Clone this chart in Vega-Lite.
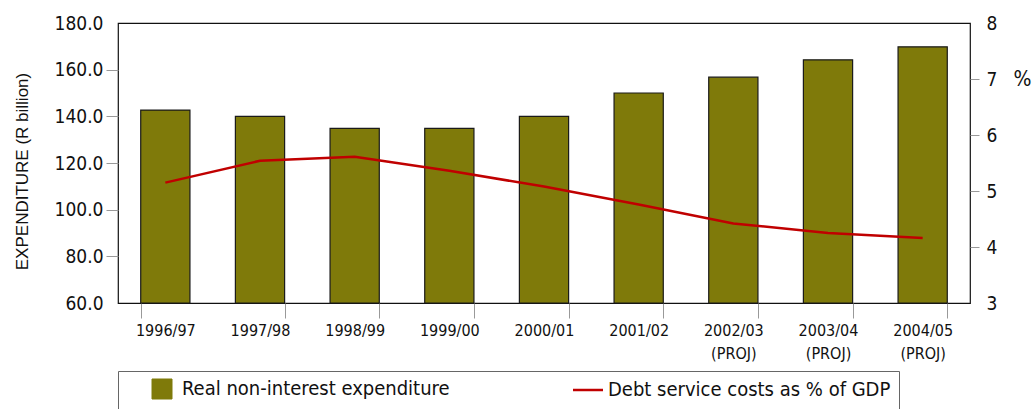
{
  "$schema": "https://vega.github.io/schema/vega-lite/v6.json",
  "width": 852,
  "height": 280,
  "autosize": {"type": "none"},
  "padding": {"left": 118, "top": 23, "right": 64, "bottom": 106},
  "background": "white",
  "data": {
    "values": [
      {"year": "1996/97", "exp": 142.7, "debt": 5.15},
      {"year": "1997/98", "exp": 140.0, "debt": 5.54},
      {"year": "1998/99", "exp": 134.8, "debt": 5.61},
      {"year": "1999/00", "exp": 134.8, "debt": 5.36},
      {"year": "2000/01", "exp": 140.0, "debt": 5.08},
      {"year": "2001/02", "exp": 150.0, "debt": 4.76},
      {"year": "2002/03 (PROJ)", "exp": 156.8, "debt": 4.42},
      {"year": "2003/04 (PROJ)", "exp": 164.2, "debt": 4.25},
      {"year": "2004/05 (PROJ)", "exp": 169.8, "debt": 4.16}
    ]
  },
  "encoding": {
    "x": {
      "field": "year",
      "type": "nominal",
      "sort": null,
      "scale": {"paddingInner": 0.48, "paddingOuter": 0.24},
      "axis": {
        "title": null,
        "labelAngle": 0,
        "domain": false,
        "tickBand": "extent",
        "tickSize": 15,
        "tickColor": {"condition": {"test": "datum.value === '1996/97'", "value": "transparent"}, "value": "#999999"},
        "labelExpr": "split(datum.label, ' ')",
        "labelFont": "DejaVu Sans Condensed",
        "labelFontSize": 16,
        "labelColor": "#111111",
        "labelPadding": 4,
        "labelLineHeight": 23,
        "labelBaseline": "top"
      }
    }
  },
  "layer": [
    {
      "mark": {"type": "bar", "stroke": "#1a1a1a", "strokeWidth": 1.2},
      "encoding": {
        "y": {
          "field": "exp",
          "type": "quantitative",
          "scale": {"domain": [60, 180], "zero": false, "nice": false},
          "axis": {
            "orient": "left",
            "title": "EXPENDITURE (R billion)",
            "titleFont": "Liberation Sans",
            "titleFontSize": 17,
            "titleFontWeight": "normal",
            "titleColor": "#111111",
            "titleAngle": -90,
            "titleX": -91,
            "titleY": 148,
            "titleAlign": "center",
            "titleBaseline": "alphabetic",
            "values": [60, 80, 100, 120, 140, 160, 180],
            "format": ".1f",
            "grid": false,
            "domain": false,
            "tickSize": 12,
            "tickColor": {"condition": {"test": "datum.value === 60 || datum.value === 180", "value": "transparent"}, "value": "#999999"},
            "labelFont": "DejaVu Sans Condensed",
            "labelFontSize": 19,
            "labelColor": "#111111",
            "labelPadding": 3
          }
        },
        "y2": {"datum": 60},
        "color": {
          "datum": "Real non-interest expenditure",
          "type": "nominal",
          "scale": {
            "domain": ["Real non-interest expenditure", "Debt service costs as % of GDP"],
            "range": ["#7f7a0a", "#c00000"]
          },
          "legend": {
            "title": null,
            "orient": "bottom",
            "direction": "horizontal",
            "columns": 2,
            "columnPadding": 102,
            "offset": 10,
            "padding": 8,
            "strokeColor": "#666666",
            "symbolOffset": 26,
            "labelFont": "DejaVu Sans Condensed",
            "labelFontSize": 20,
            "labelColor": "#111111",
            "labelLimit": 400,
            "labelOffset": 10,
            "encode": {
              "symbols": {
                "update": {
                  "shape": {"signal": "datum.value === 'Debt service costs as % of GDP' ? 'stroke' : 'square'"},
                  "size": {"signal": "datum.value === 'Debt service costs as % of GDP' ? 900 : 400"},
                  "stroke": {"signal": "datum.value === 'Debt service costs as % of GDP' ? '#c00000' : '#1a1a1a'"},
                  "strokeWidth": {"signal": "datum.value === 'Debt service costs as % of GDP' ? 2.5 : 1"},
                  "fill": {"signal": "datum.value === 'Debt service costs as % of GDP' ? 'transparent' : '#7f7a0a'"}
                }
              }
            }
          }
        }
      }
    },
    {
      "mark": {"type": "line", "strokeWidth": 2.5},
      "encoding": {
        "y": {
          "field": "debt",
          "type": "quantitative",
          "scale": {"domain": [3, 8], "zero": false, "nice": false},
          "axis": {
            "orient": "right",
            "title": "%",
            "titleAngle": 0,
            "titleX": 52,
            "titleY": 56,
            "titleAlign": "center",
            "titleBaseline": "middle",
            "titleFont": "DejaVu Sans Condensed",
            "titleFontSize": 21,
            "titleFontWeight": "normal",
            "titleColor": "#111111",
            "values": [3, 4, 5, 6, 7, 8],
            "format": "d",
            "grid": false,
            "domain": false,
            "tickSize": 9,
            "tickColor": {"condition": {"test": "datum.value === 3 || datum.value === 8", "value": "transparent"}, "value": "#999999"},
            "labelFont": "DejaVu Sans Condensed",
            "labelFontSize": 19,
            "labelColor": "#111111",
            "labelPadding": 7
          }
        },
        "color": {
          "datum": "Debt service costs as % of GDP",
          "type": "nominal",
          "legend": {
            "title": null,
            "orient": "bottom",
            "direction": "horizontal",
            "columns": 2,
            "columnPadding": 102,
            "offset": 10,
            "padding": 8,
            "strokeColor": "#666666",
            "symbolOffset": 26,
            "labelFont": "DejaVu Sans Condensed",
            "labelFontSize": 20,
            "labelColor": "#111111",
            "labelLimit": 400,
            "labelOffset": 10,
            "encode": {
              "symbols": {
                "update": {
                  "shape": {"signal": "datum.value === 'Debt service costs as % of GDP' ? 'stroke' : 'square'"},
                  "size": {"signal": "datum.value === 'Debt service costs as % of GDP' ? 900 : 400"},
                  "stroke": {"signal": "datum.value === 'Debt service costs as % of GDP' ? '#c00000' : '#1a1a1a'"},
                  "strokeWidth": {"signal": "datum.value === 'Debt service costs as % of GDP' ? 2.5 : 1"},
                  "fill": {"signal": "datum.value === 'Debt service costs as % of GDP' ? 'transparent' : '#7f7a0a'"}
                }
              }
            }
          }
        }
      }
    }
  ],
  "resolve": {"scale": {"y": "independent"}},
  "config": {
    "view": {"stroke": "#111111", "strokeWidth": 1.2}
  }
}
